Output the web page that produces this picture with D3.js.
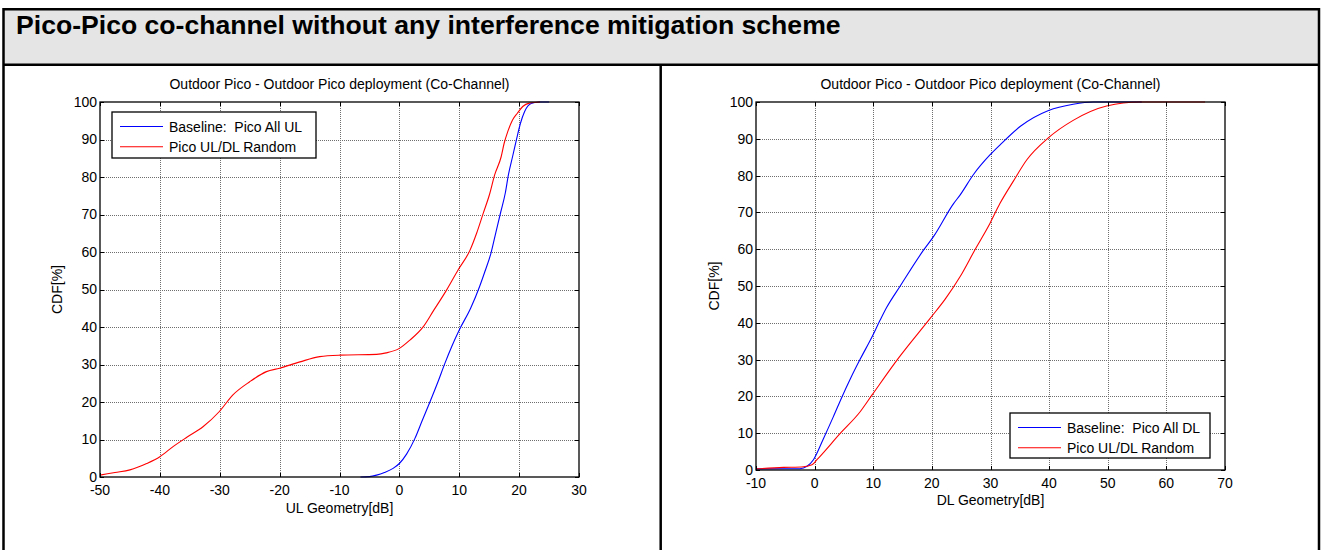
<!DOCTYPE html>
<html>
<head>
<meta charset="utf-8">
<script src="https://cdn.jsdelivr.net/npm/d3@7/dist/d3.min.js"></script>
<style>
  html, body { margin: 0; padding: 0; background: #ffffff; }
  svg { display: block; }
  text { font-family: "Liberation Sans", Arial, sans-serif; fill: #000; white-space: pre; }
</style>
</head>
<body>
<svg id="chart" width="1321" height="550"></svg>
<script>
// ---- Data -------------------------------------------------------------
const pageTitle = "Pico-Pico co-channel without any interference mitigation scheme";
const panelTitle = "Outdoor Pico - Outdoor Pico deployment (Co-Channel)";

// Uplink geometry CDFs (dB, %)
const ulBaselineX   = [-6.5, -5, -3.8, -2.5, -1.05, 0, 1.2, 2.6, 3.8, 5.1, 6.4, 7.6, 8.8, 10, 11.9, 13.4, 14.2, 15.3, 16.1, 16.95, 17.7, 18.2, 18.9, 19.6, 20.2, 20.9, 22, 23.5, 25];
const ulBaselineCdf = [0, 0.1, 0.5, 1.2, 2.3, 3.6, 6.1, 10.3, 15, 20, 25.2, 30.3, 35, 39.2, 45, 50.8, 54.4, 59.7, 65.1, 70.8, 75.8, 80.5, 85.4, 90.3, 94.2, 97.4, 99.6, 100, 100];
const ulRandomX     = [-50, -47.5, -45, -42.2, -40, -37.8, -35.5, -32.8, -30.1, -27.8, -25, -22.2, -20, -16.6, -13.3, -9.9, -3.8, -2.2, 0, 1.75, 4, 5.6, 7.9, 9.8, 11.8, 12.9, 14, 15.1, 15.9, 17, 17.5, 18.1, 18.9, 19.7, 20.6, 21.7, 23.5];
const ulRandomCdf   = [0.5, 1.2, 1.9, 3.6, 5.4, 8.1, 10.6, 13.4, 17.4, 21.9, 25.4, 28.1, 29, 30.7, 32.1, 32.5, 32.7, 33.1, 34.3, 36.5, 40.1, 44.1, 49.9, 55.2, 60.5, 65, 70.3, 75.6, 80.5, 85.4, 89, 92.1, 95.2, 97, 98.8, 99.7, 100];

// Downlink geometry CDFs (dB, %)
const dlBaselineX   = [-10, -2.5, -1.3, -0.2, 1.5, 3.2, 4.7, 6.1, 7.8, 9.8, 11.2, 12.3, 14.6, 18.6, 20.3, 23.7, 24.8, 27.1, 29.9, 31.6, 35.1, 39.9, 44.1, 47.6, 55.8];
const dlBaselineCdf = [0.3, 0.35, 1, 2.8, 8.5, 14.5, 20, 24.8, 30.2, 36.2, 40.8, 44.2, 50, 59.8, 63.5, 72.4, 74.7, 80.3, 85.6, 88.3, 93.4, 97.7, 99.4, 100, 100];
const dlRandomX     = [-10, -5.3, -1.9, -0.45, 0.4, 4.4, 7.8, 9.8, 14.3, 19.7, 22.3, 24.8, 27.4, 29.9, 31.6, 33.9, 36.2, 39.9, 44.1, 49.8, 55.5, 66.6];
const dlRandomCdf   = [0.3, 0.7, 0.9, 1.4, 2.8, 10, 15.9, 20.4, 30.4, 41.2, 46.5, 52.5, 60, 67, 72.4, 78.5, 84.3, 90.3, 95, 98.9, 100, 100];

const ulTicksX = [-50, -40, -30, -20, -10, 0, 10, 20, 30];
const dlTicksX = [-10, 0, 10, 20, 30, 40, 50, 60, 70];
const cdfTicks = [0, 10, 20, 30, 40, 50, 60, 70, 80, 90, 100];

const ulLegend = ["Baseline:  Pico All UL", "Pico UL/DL Random"];
const dlLegend = ["Baseline:  Pico All DL", "Pico UL/DL Random"];
const seriesColors = ["#0000ff", "#ff0000"];

// ---- Page frame -------------------------------------------------------
const svg = d3.select("#chart");

svg.append("rect")
  .attr("x", 3.5).attr("y", 9.2)
  .attr("width", 1315.3).attr("height", 55.5)
  .attr("fill", "#e5e5e5");

const frame = svg.append("g")
  .attr("stroke", "#000").attr("stroke-width", 2.5).attr("fill", "none");
frame.append("path").attr("d", "M3.5,560 V9.2 H1319 V560");
frame.append("line").attr("x1", 3.5).attr("x2", 1319).attr("y1", 64.7).attr("y2", 64.7);
frame.append("line").attr("x1", 660.7).attr("x2", 660.7).attr("y1", 64.7).attr("y2", 560);

svg.append("text")
  .attr("x", 16).attr("y", 34)
  .attr("font-size", 26.6).attr("font-weight", "bold")
  .text(pageTitle);

// ---- One CDF panel ----------------------------------------------------
function drawPanel(cfg) {
  const x = d3.scaleLinear().domain(cfg.xDomain).range([cfg.left, cfg.right]);
  const y = d3.scaleLinear().domain([0, 100]).range([cfg.bottom, cfg.top]);
  const g = svg.append("g");
  const fs = 14;

  // dotted grid
  const grid = g.append("g")
    .attr("stroke", "#6e6e6e").attr("stroke-width", 1)
    .attr("stroke-dasharray", "1,1");
  grid.selectAll("line.gx").data(cfg.xTicks.slice(1, -1)).join("line")
    .attr("x1", d => Math.round(x(d)) + 0.5).attr("x2", d => Math.round(x(d)) + 0.5)
    .attr("y1", cfg.top).attr("y2", cfg.bottom);
  grid.selectAll("line.gy").data(cdfTicks.slice(1, -1)).join("line")
    .attr("y1", d => Math.round(y(d)) + 0.5).attr("y2", d => Math.round(y(d)) + 0.5)
    .attr("x1", cfg.left).attr("x2", cfg.right);

  // series
  const line = d3.line()
    .x(d => x(d[0])).y(d => y(d[1]))
    .curve(d3.curveMonotoneX);
  cfg.series.forEach(s => {
    g.append("path")
      .datum(d3.zip(s.x, s.y))
      .attr("fill", "none")
      .attr("stroke", s.color)
      .attr("stroke-width", 1.1)
      .attr("d", line);
  });

  // box and inward ticks on all four sides
  const axes = g.append("g").attr("stroke", "#000").attr("fill", "none");
  axes.append("rect")
    .attr("x", cfg.left).attr("y", cfg.top)
    .attr("width", cfg.right - cfg.left).attr("height", cfg.bottom - cfg.top)
    .attr("stroke-width", 1.3);
  const tl = 4;
  cfg.xTicks.forEach(t => {
    const px = Math.round(x(t)) + 0.5;
    axes.append("line").attr("x1", px).attr("x2", px).attr("y1", cfg.bottom).attr("y2", cfg.bottom - tl);
    axes.append("line").attr("x1", px).attr("x2", px).attr("y1", cfg.top).attr("y2", cfg.top + tl);
  });
  cdfTicks.forEach(t => {
    const py = Math.round(y(t)) + 0.5;
    axes.append("line").attr("y1", py).attr("y2", py).attr("x1", cfg.left).attr("x2", cfg.left + tl);
    axes.append("line").attr("y1", py).attr("y2", py).attr("x1", cfg.right).attr("x2", cfg.right - tl);
  });

  // tick labels
  g.selectAll("text.xt").data(cfg.xTicks).join("text")
    .attr("x", d => x(d)).attr("y", cfg.bottom + 18)
    .attr("text-anchor", "middle").attr("font-size", fs)
    .text(d => d);
  g.selectAll("text.yt").data(cdfTicks).join("text")
    .attr("x", cfg.left - 3).attr("y", d => y(d))
    .attr("dy", "0.35em")
    .attr("text-anchor", "end").attr("font-size", fs)
    .text(d => d);

  // titles
  g.append("text")
    .attr("x", (cfg.left + cfg.right) / 2).attr("y", 89)
    .attr("text-anchor", "middle").attr("font-size", fs)
    .text(panelTitle);
  g.append("text")
    .attr("x", (cfg.left + cfg.right) / 2).attr("y", cfg.xLabelY)
    .attr("text-anchor", "middle").attr("font-size", fs)
    .text(cfg.xLabel);
  g.append("text")
    .attr("transform", `translate(${cfg.yLabelX},${(cfg.top + cfg.bottom) / 2}) rotate(-90)`)
    .attr("text-anchor", "middle").attr("font-size", fs)
    .text("CDF[%]");

  // legend
  const L = cfg.legend;
  const lg = g.append("g");
  lg.append("rect")
    .attr("x", L.x).attr("y", L.y).attr("width", L.w).attr("height", L.h)
    .attr("fill", "#fff").attr("stroke", "#000").attr("stroke-width", 1.3);
  cfg.series.forEach((s, i) => {
    const ry = L.y + 14.5 + i * 20.3;
    lg.append("line")
      .attr("x1", L.x + 8).attr("x2", L.x + 51)
      .attr("y1", ry).attr("y2", ry)
      .attr("stroke", s.color).attr("stroke-width", 1.1);
    lg.append("text")
      .attr("x", L.x + 57).attr("y", ry).attr("dy", "0.36em")
      .attr("font-size", fs)
      .text(L.labels[i]);
  });
}

drawPanel({
  left: 100, right: 579, top: 102, bottom: 477,
  xDomain: [-50, 30], xTicks: ulTicksX,
  xLabel: "UL Geometry[dB]", xLabelY: 513, yLabelX: 62,
  series: [
    { x: ulBaselineX, y: ulBaselineCdf, color: seriesColors[0] },
    { x: ulRandomX, y: ulRandomCdf, color: seriesColors[1] }
  ],
  legend: { x: 112, y: 112, w: 204, h: 46, labels: ulLegend }
});

drawPanel({
  left: 756, right: 1225, top: 102, bottom: 470,
  xDomain: [-10, 70], xTicks: dlTicksX,
  xLabel: "DL Geometry[dB]", xLabelY: 505, yLabelX: 719,
  series: [
    { x: dlBaselineX, y: dlBaselineCdf, color: seriesColors[0] },
    { x: dlRandomX, y: dlRandomCdf, color: seriesColors[1] }
  ],
  legend: { x: 1010, y: 413, w: 200, h: 45, labels: dlLegend }
});
</script>
</body>
</html>
